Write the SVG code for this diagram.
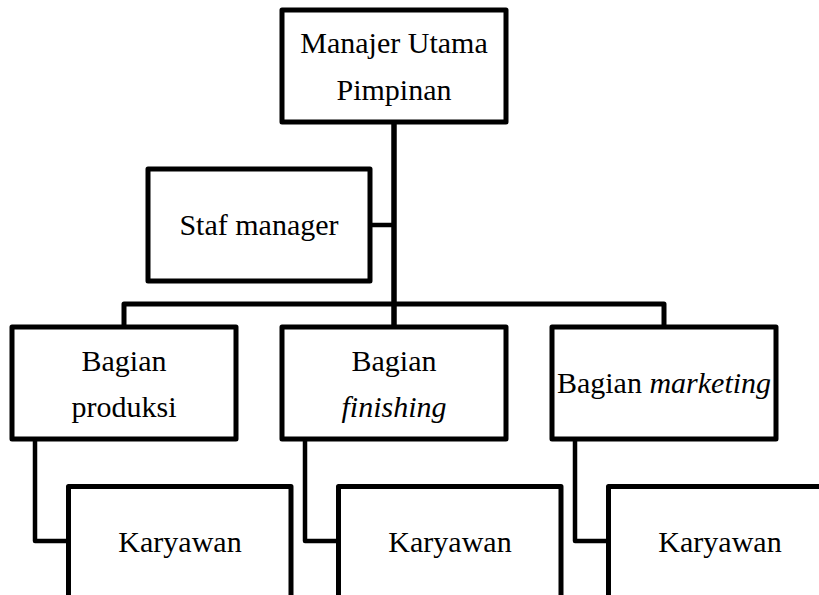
<svg xmlns="http://www.w3.org/2000/svg" width="819" height="595" viewBox="0 0 819 595">
<style>
.box{fill:#fff;stroke:#000;stroke-width:5;stroke-linejoin:round}
.t{font-family:'Liberation Serif','Times New Roman',Tinos,'DejaVu Serif',serif;font-size:30px;fill:#000;text-anchor:middle}
.c{fill:none;stroke:#000;stroke-width:4.5;stroke-linejoin:round}
</style>
<rect width="819" height="595" fill="#fff"/>
<g id="connectors">
<path class="c" d="M394,122 V327" style="stroke-width:5.5"/>
<path class="c" d="M370,225 H394"/>
<path class="c" d="M124,327 V304 H664 V327" style="stroke-width:5"/>
<path class="c" d="M35,441 V541 H68"/>
<path class="c" d="M305,441 V541 H338"/>
<path class="c" d="M575,441 V541 H608"/>
</g>
<g id="manajer">
<rect class="box" x="282" y="10" width="224" height="112"/>
<text class="t" x="394" y="53">Manajer Utama</text>
<text class="t" x="394" y="100">Pimpinan</text>
</g>
<g id="staf">
<rect class="box" x="148" y="169" width="222" height="112"/>
<text class="t" x="259" y="235">Staf manager</text>
</g>
<g id="produksi">
<rect class="box" x="12" y="327" width="224" height="112"/>
<text class="t" x="124" y="371">Bagian</text>
<text class="t" x="124" y="417">produksi</text>
</g>
<g id="finishing">
<rect class="box" x="282" y="327" width="224" height="112"/>
<text class="t" x="394" y="371">Bagian</text>
<text class="t" x="394" y="417" font-style="italic">finishing</text>
</g>
<g id="marketing">
<rect class="box" x="552" y="327" width="224" height="112"/>
<text class="t" x="664" y="393">Bagian <tspan font-style="italic">marketing</tspan></text>
</g>
<g id="karyawan1">
<rect class="box" x="68.5" y="486.5" width="222.5" height="130"/>
<text class="t" x="180" y="552">Karyawan</text>
</g>
<g id="karyawan2">
<rect class="box" x="338.5" y="486.5" width="222.5" height="130"/>
<text class="t" x="450" y="552">Karyawan</text>
</g>
<g id="karyawan3">
<rect class="box" x="608.5" y="486.5" width="222.5" height="130"/>
<text class="t" x="720" y="552">Karyawan</text>
</g>
</svg>
